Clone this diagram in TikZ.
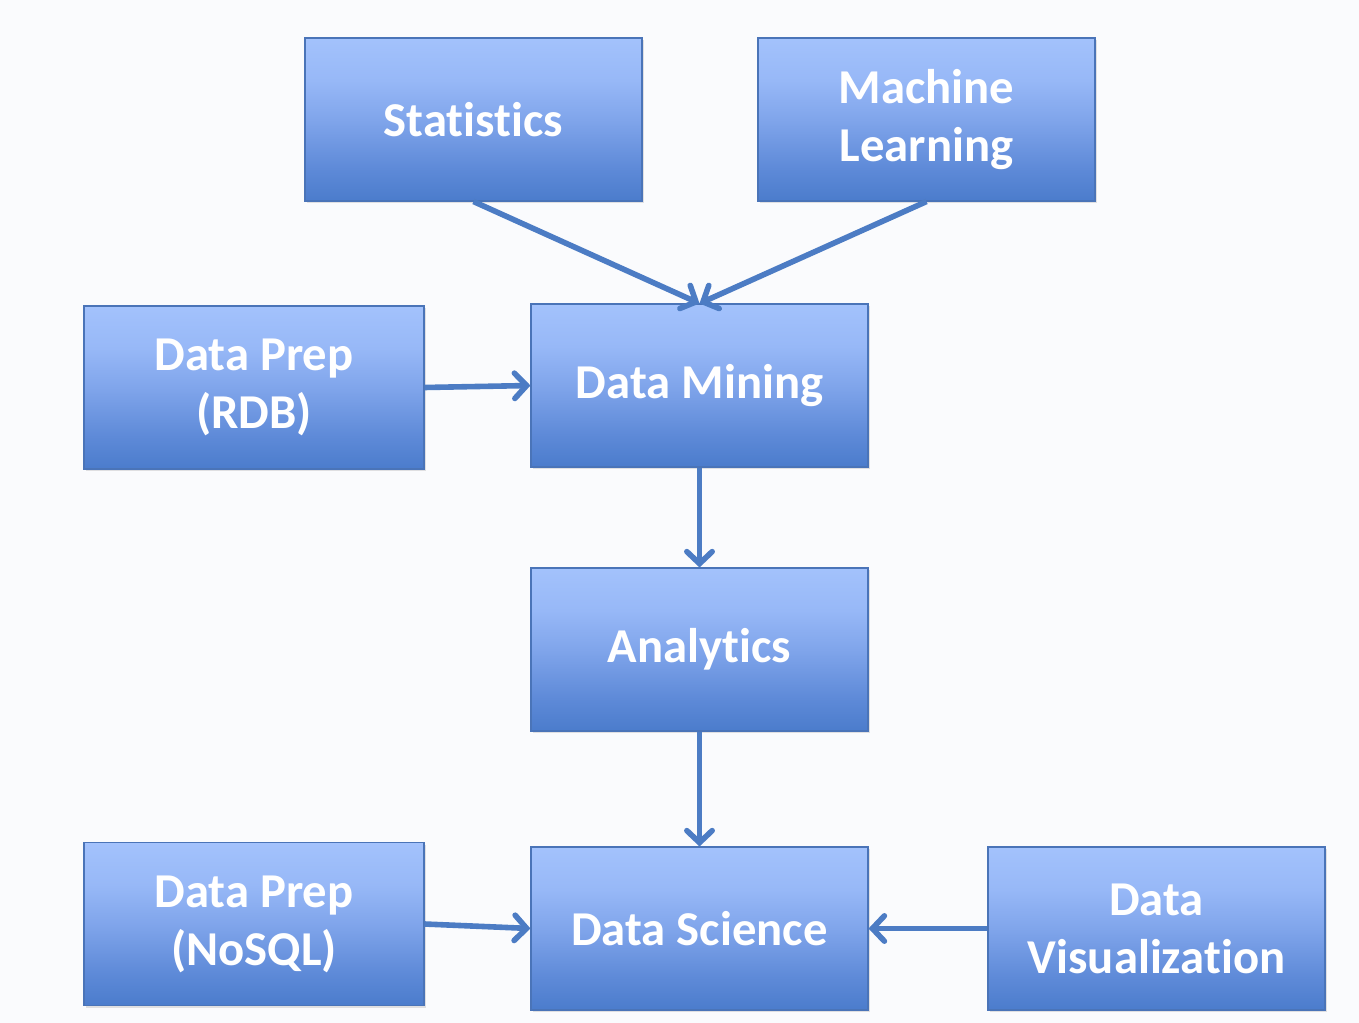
\documentclass[tikz,border=0pt]{standalone}
\usepackage{fontspec}
\setmainfont{Carlito}[Ligatures=CommonOff]
\usetikzlibrary{arrows.meta,shadows}
\definecolor{pagebg}{HTML}{FAFBFD}
\definecolor{boxedge}{HTML}{4A74B8}
\definecolor{linkblue}{HTML}{4C7CC4}
\definecolor{fillbot}{HTML}{4B7CCC}
\definecolor{filllow}{HTML}{5E8AD8}
\definecolor{fillmid}{HTML}{80A5EB}
\definecolor{fillhigh}{HTML}{97B8F7}
\definecolor{filltop}{HTML}{A3C2FC}
% axis shading: the path spans 25bp..75bp of the declared range
\pgfdeclareverticalshading{boxfill}{100bp}{%
  color(0bp)=(fillbot); color(25bp)=(fillbot); color(35bp)=(filllow);
  color(50bp)=(fillmid); color(62bp)=(fillhigh); color(75bp)=(filltop);
  color(100bp)=(filltop)}
\tikzset{
  topic/.style={draw=boxedge, line width=0.8pt, shading=boxfill,
    minimum width=252.75pt, minimum height=122.25pt, inner sep=0pt,
    align=center, text=white, font=\fontsize{36.5}{43.5}\selectfont\bfseries,
    drop shadow={opacity=0.22, shadow xshift=1.8pt, shadow yshift=-1.8pt}},
  wide/.style={minimum width=255pt},
  link/.style={draw=linkblue, line width=4.2pt, line join=round,
    -{Straight Barb[length=9pt, width=19pt, line cap=round]}}
}
\begin{document}
\begin{tikzpicture}[x=0.75pt, y=-0.75pt]
  \fill[pagebg] (0,0) rectangle (1359,1023);
  \useasboundingbox (0,0) rectangle (1359,1023);

  % boxes
  \node[topic] (stat) at (473.5,119.5) {Statistics};
  \node[topic] (ml)   at (926.5,119.5) {Machine\\Learning};
  \node[topic, wide] (rdb) at (254,387.5) {Data Prep\\(RDB)};
  \node[topic] (mine) at (699.5,385.5) {Data Mining};
  \node[topic] (ana)  at (699.5,649.5) {Analytics};
  \node[topic, wide] (nosql) at (254,924) {Data Prep\\(NoSQL)};
  \node[topic] (sci)  at (699.5,928.5) {Data Science};
  \node[topic] (viz)  at (1156.5,928.5) {Data\\Visualization};

  % connectors
  \draw[link] (stat.south) -- (mine.north);
  \draw[link] (ml.south) -- (mine.north);
  \draw[link] (rdb.east) -- (mine.west);
  \draw[link] (mine.south) -- (ana.north);
  \draw[link] (ana.south) -- (sci.north);
  \draw[link] (nosql.east) -- (sci.west);
  \draw[link] (viz.west) -- (sci.east);
\end{tikzpicture}
\end{document}
